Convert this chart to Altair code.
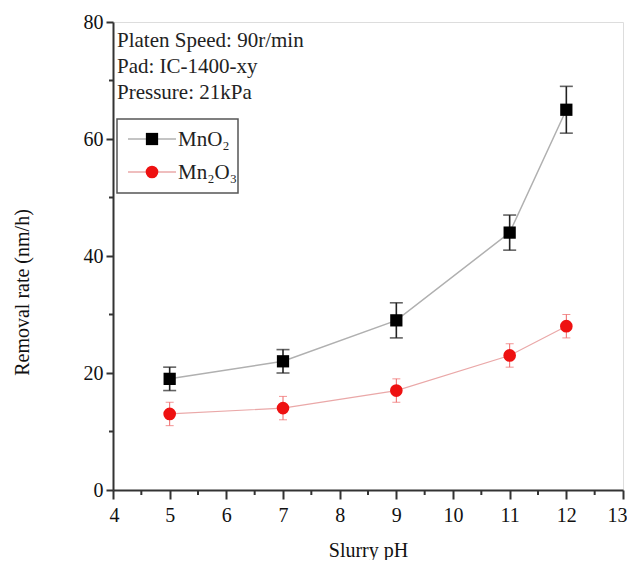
import altair as alt
import pandas as pd

# ---- data ----
ph = [5, 7, 9, 11, 12]
mno2 = [19, 22, 29, 44, 65]
mno2_err = [2, 2, 3, 3, 4]
mn2o3 = [13, 14, 17, 23, 28]
mn2o3_err = [2, 2, 2, 2, 2]

notes = ["Platen Speed: 90r/min", "Pad: IC-1400-xy", "Pressure: 21kPa"]
series_names = ["MnO\u2082", "Mn\u2082O\u2083"]

y_major = [0, 20, 40, 60, 80]
y_minor = [10, 30, 50, 70]
x_major = [4, 5, 6, 7, 8, 9, 10, 11, 12, 13]
x_minor = [4.5, 5.5, 6.5, 7.5, 8.5, 9.5, 10.5, 11.5, 12.5]

FONT = "Liberation Serif"
H = 468

def frame(vals, errs, name):
    return pd.DataFrame({
        "ph": ph,
        "rate": vals,
        "lo": [v - e for v, e in zip(vals, errs)],
        "hi": [v + e for v, e in zip(vals, errs)],
        "series": name,
    })

df1 = frame(mno2, mno2_err, series_names[0])
df2 = frame(mn2o3, mn2o3_err, series_names[1])

x_scale = alt.Scale(domain=[4, 13], nice=False, zero=False)
y_scale = alt.Scale(domain=[0, 80], nice=False)

x_axis = alt.Axis(
    values=x_major, format="d",
    tickSize=9, tickColor="#333", tickWidth=2, domainColor="#333", domainWidth=2,
    labelFont=FONT, labelFontSize=20, labelColor="#111", labelPadding=6,
    labelFlush=True, labelFlushOffset=4,
    title="Slurry pH", titleFont=FONT, titleFontSize=20, titleFontWeight="normal",
    titleColor="#111", titleX=255, titleY=66, titleBaseline="alphabetic",
    titleAlign="center", grid=False,
)
y_axis = alt.Axis(
    values=y_major,
    tickSize=7, tickColor="#333", tickWidth=2, domainColor="#333", domainWidth=2,
    labelFont=FONT, labelFontSize=20, labelColor="#111", labelPadding=3,
    title="Removal rate (nm/h)", titleFont=FONT, titleFontSize=20,
    titleFontWeight="normal", titleColor="#111", titleAngle=270,
    titleX=-91, titleY=270, titleAlign="center", titleBaseline="middle",
    grid=False, labelFlush=False,
)

X = alt.X("ph:Q", scale=x_scale, axis=x_axis)

def series_layers(df, line_color, line_w, bar_color, bar_w, cap, shape, fill, size):
    base = alt.Chart(df)
    line = base.mark_line(color=line_color, strokeWidth=line_w).encode(
        x=X, y=alt.Y("rate:Q", scale=y_scale, axis=y_axis))
    bars = base.mark_rule(color=bar_color, strokeWidth=bar_w).encode(
        x="ph:Q", y="lo:Q", y2="hi:Q")
    cap_lo = base.mark_tick(orient="horizontal", color=bar_color, size=cap,
                            thickness=bar_w).encode(x="ph:Q", y="lo:Q")
    cap_hi = base.mark_tick(orient="horizontal", color=bar_color, size=cap,
                            thickness=bar_w).encode(x="ph:Q", y="hi:Q")
    pts = base.mark_point(shape=shape, filled=True, color=fill, size=size,
                          opacity=1).encode(x="ph:Q", y="rate:Q")
    return [line, bars, cap_lo, cap_hi, pts]

layers = []
layers += series_layers(df1, "#b0b0b0", 1.5, "#222", 1.6, 13, "square", "#000", 150)
layers += series_layers(df2, "#eaa8a8", 1.2, "#e66", 1.0, 8, "circle", "#ee1111", 160)

# minor ticks (outward), placed through the scales
ymin_ticks = alt.Chart(pd.DataFrame({"v": y_minor})).mark_rule(
    color="#333", strokeWidth=2).encode(
    y=alt.Y("v:Q", scale=y_scale, axis=y_axis), x=alt.value(-4), x2=alt.value(0))
xmin_ticks = alt.Chart(pd.DataFrame({"v": x_minor})).mark_rule(
    color="#333", strokeWidth=2).encode(
    x=alt.X("v:Q", scale=x_scale, axis=x_axis), y=alt.value(H), y2=alt.value(H + 5))

one = alt.Data(values=[{}])

note = alt.Chart(one).mark_text(
    align="left", baseline="alphabetic", font=FONT, fontSize=21,
    color="#222", lineHeight=26,
).encode(x=alt.value(4), y=alt.value(25), text=alt.value(notes))

box = alt.Chart(one).mark_rect(fill="white", stroke="#555", strokeWidth=1.5).encode(
    x=alt.value(4), x2=alt.value(125), y=alt.value(97), y2=alt.value(171))

leg = []
rows = [
    (series_names[0], 117, "#b0b0b0", "square", "#000", 150),
    (series_names[1], 150, "#eaa8a8", "circle", "#ee1111", 160),
]
for name, yy, lc, shp, fc, sz in rows:
    leg.append(alt.Chart(one).mark_rule(color=lc, strokeWidth=1.5).encode(
        x=alt.value(15), x2=alt.value(63), y=alt.value(yy)))
    leg.append(alt.Chart(one).mark_point(shape=shp, filled=True, color=fc,
                                         size=sz, opacity=1).encode(
        x=alt.value(39), y=alt.value(yy)))
    leg.append(alt.Chart(one).mark_text(align="left", baseline="middle",
                                        font=FONT, fontSize=21, color="#222").encode(
        x=alt.value(65), y=alt.value(yy + 1), text=alt.value(name)))

chart = alt.layer(*layers, ymin_ticks, xmin_ticks, note, box, *leg).properties(
    width=510, height=H,
    autosize=alt.AutoSizeParams(type="none"),
    padding={"left": 105, "top": 14, "right": 4, "bottom": 70},
).configure_view(stroke="#111", strokeWidth=2).configure(background="white")

chart.save("out.html", embed_options={"renderer": "svg", "actions": False})
